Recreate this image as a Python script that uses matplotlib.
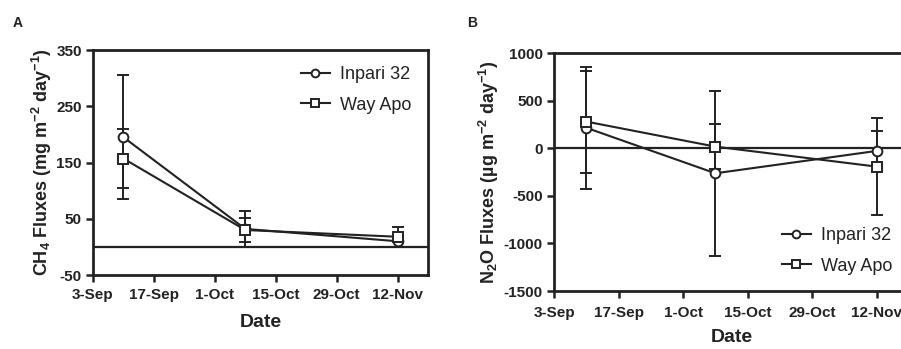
import matplotlib
matplotlib.use("Agg")
import matplotlib.pyplot as plt
import matplotlib.dates as mdates
import numpy as np
import datetime as dt

plt.rcParams['font.family'] = ['Liberation Sans', 'DejaVu Sans']
plt.rcParams['mathtext.fontset'] = 'custom'
plt.rcParams['mathtext.bf'] = 'Liberation Sans:bold'
plt.rcParams['mathtext.rm'] = 'Liberation Sans:bold'
plt.rcParams['mathtext.default'] = 'bf'
plt.rcParams['axes.unicode_minus'] = False

# sampling dates
dates = [dt.date(2019, 9, 10), dt.date(2019, 10, 8), dt.date(2019, 11, 12)]

# CH4 fluxes (mg m-2 day-1)
ch4_inpari = [195, 32, 10]
ch4_inpari_err = [110, 32, 10]
ch4_wayapo = [157, 30, 18]
ch4_wayapo_err = [52, 22, 18]

# N2O fluxes (ug m-2 day-1)
n2o_inpari = [215, -263, -28]
n2o_inpari_err = [642, 868, 213]
n2o_wayapo = [280, 17, -193]
n2o_wayapo_err = [535, 238, 510]

tick_dates = [dt.date(2019, 9, 3), dt.date(2019, 9, 17), dt.date(2019, 10, 1),
              dt.date(2019, 10, 15), dt.date(2019, 10, 29), dt.date(2019, 11, 12)]
xlim = (dt.date(2019, 9, 3), dt.date(2019, 11, 19))

ink = '#222222'

fig = plt.figure(figsize=(9.01, 3.49), dpi=100)
axA = fig.add_axes([0.1032, 0.212, 0.3718, 0.6447])
axB = fig.add_axes([0.6149, 0.166, 0.394, 0.682])


def draw(ax, y1, e1, y2, e2, ylim, yticks, ylabel, legloc, xpad, lpad):
    ax.axhline(0, color=ink, lw=1.6, zorder=1)
    for y, e, m, lab in [(y1, e1, 'o', 'Inpari 32'), (y2, e2, 's', 'Way Apo')]:
        ax.errorbar(dates, y, yerr=e, fmt='none', ecolor=ink, capsize=4,
                    capthick=1.4, elinewidth=1.4, zorder=2)
        ax.plot(dates, y, color=ink, lw=1.5, marker=m, ms=7, mfc='white',
                mec=ink, mew=1.4, label=lab, zorder=3)
    ax.set_xlim(xlim)
    ax.set_ylim(ylim)
    ax.set_yticks(yticks)
    ax.set_xticks(tick_dates)
    ax.xaxis.set_major_formatter(mdates.DateFormatter('%-d-%b'))
    for s in ax.spines.values():
        s.set_linewidth(2)
        s.set_color(ink)
    ax.tick_params(axis='both', length=5, width=1.8, color=ink,
                   labelsize=11, pad=3)
    ax.tick_params(axis='x', pad=xpad)
    for lab in ax.get_xticklabels() + ax.get_yticklabels():
        lab.set_fontweight('bold')
        lab.set_color(ink)
    ax.set_xlabel('Date', fontsize=14, fontweight='bold', color=ink, labelpad=lpad)
    ax.set_ylabel(ylabel, fontsize=13, fontweight='bold', color=ink, labelpad=2)
    leg = ax.legend(loc=legloc, frameon=False, fontsize=13, handlelength=1.6,
                    handletextpad=0.6, labelspacing=0.75, markerscale=0.8)
    for t in leg.get_texts():
        t.set_color(ink)


draw(axA, ch4_inpari, ch4_inpari_err, ch4_wayapo, ch4_wayapo_err,
     (-50, 350), [-50, 50, 150, 250, 350],
     r'CH$_4$ Fluxes (mg m$^{-2}$ day$^{-1}$)', 'upper right', 4, 9)
draw(axB, n2o_inpari, n2o_inpari_err, n2o_wayapo, n2o_wayapo_err,
     (-1500, 1000), [-1500, -1000, -500, 0, 500, 1000],
     r'N$_2$O Fluxes (µg m$^{-2}$ day$^{-1}$)', 'lower right', 6, 6)

fig.text(0.014, 0.923, 'A', fontsize=10, fontweight='bold', color=ink)
fig.text(0.518, 0.923, 'B', fontsize=10, fontweight='bold', color=ink)

fig.savefig('out.png', dpi=100)
